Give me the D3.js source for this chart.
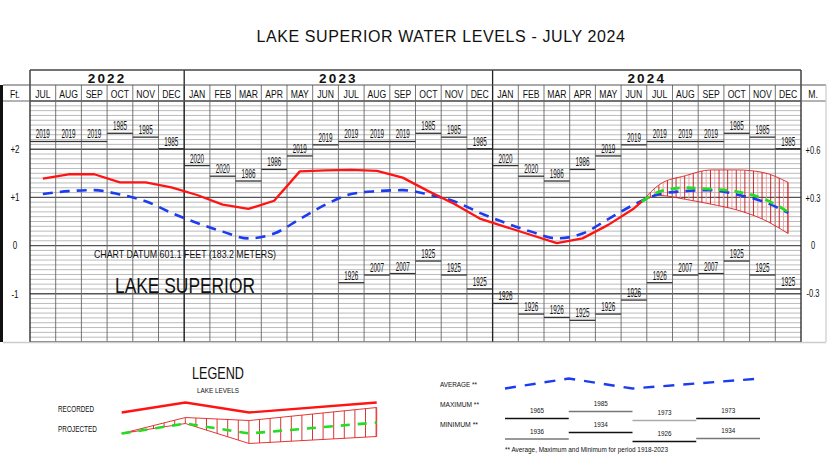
<!DOCTYPE html>
<html>
<head>
<meta charset="utf-8">
<script src="https://cdn.jsdelivr.net/npm/d3@7"></script>
<style>
body { margin: 0; background: #fff; }
svg text { font-family: "Liberation Sans", Arial, sans-serif; fill: #111; }
</style>
</head>
<body>
<div id="chart"></div>
<script>
// ---- data ----
var monthNames = ["JAN","FEB","MAR","APR","MAY","JUN","JUL","AUG","SEP","OCT","NOV","DEC"];
var firstMonth = 6; // chart starts in July 2022
var monthCount = 30;
var yearLabels = ["2022","2023","2024"];
var yearMonthCounts = [6, 12, 12];

// monthly mean levels, feet above chart datum, Jul 2022 - Jun 2024
var recordedLevels = [1.39,1.48,1.48,1.31,1.31,1.21,
	1.05,0.85,0.76,0.93,1.54,1.56,1.57,1.55,1.41,1.13,0.87,0.56,
	0.39,0.22,0.05,0.15,0.43,0.77];
var latestPosition = 23.8;
var latestLevel = 0.91;

// projection Jul - Dec 2024
var projectedLevels = [1.12,1.20,1.17,1.12,0.98,0.70];
var projectedHigh = [1.27,1.45,1.57,1.57,1.52,1.31];
var projectedLow = [1.04,0.96,0.86,0.74,0.55,0.25];

// period of record, by calendar month Jan..Dec
var averageByMonth = [0.47,0.29,0.15,0.25,0.55,0.85,1.07,1.13,1.15,1.06,0.92,0.68];
var maxYearByMonth = ["2020","2020","1986","1986","2019","2019","2019","2019","2019","1985","1985","1985"];
var maxLevelByMonth = [1.66,1.44,1.34,1.58,1.86,2.09,2.16,2.16,2.16,2.33,2.25,2.01];
var minYearByMonth = ["1926","1926","1926","1925","1926","1926","1926","2007","2007","1925","1925","1925"];
var minLevelByMonth = [-1.20,-1.42,-1.49,-1.55,-1.42,-1.13,-0.77,-0.61,-0.58,-0.32,-0.61,-0.90];
var minShownFrom = 12;

var feetTicks = [2, 1, 0, -1];
var metreTicks = [0.6, 0.3, 0, -0.3];

// legend samples
var legendSteps = [0, 1, 2, 4];
var legendRecorded = [0.65,0.85,0.65,0.85];
var legendProjected = [0.23,0.43,0.23,0.45];
var legendHigh = [0.23,0.55,0.49,0.75];
var legendLow = [0.23,0.43,0.03,0.17];
var legendAverage = [1.13,1.33,1.13,1.33];
var legendMaxYears = ["1965","1985","1973","1973"];
var legendMaxLevels = [0.53,0.67,0.49,0.53];
var legendMinYears = ["1936","1934","1926","1934"];
var legendMinLevels = [0.12,0.25,0.07,0.13];

var RED = "#ff1414", BLUE = "#1c3cf0", GREEN = "#22dd22";

// squeeze text horizontally, like a narrow face
function narrow(sel, k) {
	sel.each(function(){
		var w = this.getComputedTextLength();
		d3.select(this).attr("textLength", w * (k || 0.82)).attr("lengthAdjust", "spacingAndGlyphs");
	});
}

/*
 *  Water level chart
 */
function LevelChart(parentElement){
	var vis = this;
	vis.parentElement = parentElement;
	vis.init();
}

LevelChart.prototype.init = function() {
	var vis = this;
	vis.width = 839;
	vis.height = 475;
	vis.svg = d3.select(vis.parentElement).append("svg")
		.attr("width", vis.width)
		.attr("height", vis.height);

	vis.x = d3.scaleLinear().domain([0, monthCount]).range([30, 801]);
	vis.y = d3.scaleLinear().domain([-2, 3]).range([342, 101]);

	vis.drawFrame();
	vis.drawMarks();
	vis.drawLegend();
};

LevelChart.prototype.drawFrame = function() {
	var vis = this, x = vis.x, y = vis.y;
	var svg = vis.svg;

	svg.append("text").attr("x", 441).attr("y", 42)
		.attr("text-anchor", "middle")
		.style("font-size", "16px").style("letter-spacing", "0.6px")
		.text("LAKE SUPERIOR WATER LEVELS - JULY 2024");

	// horizontal grid every 0.1 ft
	var grid = d3.range(-20, 31).map(function(d){ return d / 10; });
	svg.append("g").selectAll("line").data(grid).enter().append("line")
		.attr("x1", x(0)).attr("x2", x(monthCount))
		.attr("y1", function(d){ return y(d); }).attr("y2", function(d){ return y(d); })
		.attr("stroke", function(d){ return Math.abs(d - Math.round(d)) < 1e-6 ? "#555" : "#aaa"; })
		.attr("stroke-width", function(d){ return Math.abs(d - Math.round(d)) < 1e-6 ? 1.4 : 0.8; });

	// month columns
	svg.append("g").selectAll("line").data(d3.range(1, monthCount)).enter().append("line")
		.attr("x1", function(d){ return x(d); }).attr("x2", function(d){ return x(d); })
		.attr("y1", 85).attr("y2", y(-2))
		.attr("stroke", "#666").attr("stroke-width", 0.9);

	// year boundaries
	var bounds = [0], acc = 0;
	yearMonthCounts.forEach(function(c){ acc += c; bounds.push(acc); });
	svg.append("g").selectAll("line").data(bounds).enter().append("line")
		.attr("x1", function(d){ return x(d); }).attr("x2", function(d){ return x(d); })
		.attr("y1", 70).attr("y2", y(-2))
		.attr("stroke", "#222").attr("stroke-width", 1.3);

	svg.append("line").attr("x1", x(0)).attr("x2", x(monthCount)).attr("y1", 70).attr("y2", 70)
		.attr("stroke", "#444").attr("stroke-width", 1.6);
	svg.append("line").attr("x1", 3).attr("x2", 826).attr("y1", 85).attr("y2", 85)
		.attr("stroke", "#555").attr("stroke-width", 1);
	svg.append("line").attr("x1", 3).attr("x2", 826).attr("y1", y(3)).attr("y2", y(3))
		.attr("stroke", "#666").attr("stroke-width", 1);
	svg.append("line").attr("x1", 3).attr("x2", 826).attr("y1", y(-2) + 0.5).attr("y2", y(-2) + 0.5)
		.attr("stroke", "#ccc").attr("stroke-width", 1.5);
	svg.append("line").attr("x1", 826).attr("x2", 826).attr("y1", 85).attr("y2", y(-2))
		.attr("stroke", "#ccc").attr("stroke-width", 1.2);
	svg.append("rect").attr("x", 0).attr("y", 85).attr("width", 3).attr("height", y(-2) - 85)
		.attr("fill", "#111");

	// year labels
	svg.append("g").selectAll("text").data(yearLabels).enter().append("text")
		.attr("x", function(d, i){ return x((bounds[i] + bounds[i + 1]) / 2); })
		.attr("y", 82.5)
		.attr("text-anchor", "middle")
		.style("font-weight", "bold").style("font-size", "13.5px").style("letter-spacing", "2.2px")
		.text(function(d){ return d; });

	// month labels
	svg.append("g").selectAll("text").data(d3.range(monthCount)).enter().append("text")
		.attr("x", function(d){ return x(d + 0.5); })
		.attr("y", 97.5)
		.attr("text-anchor", "middle")
		.style("font-size", "10.5px")
		.text(function(d){ return monthNames[(firstMonth + d) % 12]; })
		.call(narrow);

	svg.append("text").attr("x", 15).attr("y", 97.5).attr("text-anchor", "middle")
		.style("font-size", "10.5px").text("Ft.").call(narrow);
	svg.append("text").attr("x", 813).attr("y", 97.5).attr("text-anchor", "middle")
		.style("font-size", "10.5px").text("M.").call(narrow);

	// feet and metre scales
	var sign = function(d){ return d > 0 ? "+" + d : String(d); };
	var left = svg.append("g").attr("transform", "translate(22,0)")
		.call(d3.axisLeft(y).tickValues(feetTicks).tickSize(0).tickPadding(0).tickFormat(sign));
	var metreY = d3.scaleLinear().domain(y.domain().map(function(d){ return d * 0.3048; })).range(y.range());
	var right = svg.append("g").attr("transform", "translate(813,0)")
		.call(d3.axisLeft(metreY).tickValues(metreTicks).tickSize(0).tickPadding(0).tickFormat(sign));
	[left, right].forEach(function(g){
		g.select(".domain").remove();
		g.selectAll("text").attr("fill", "#111")
			.style("font-family", "'Liberation Sans', Arial, sans-serif")
			.style("font-size", "10px");
	});
	left.selectAll("text").attr("text-anchor", "middle").attr("x", -7).call(narrow, 0.8);
	right.selectAll("text").attr("text-anchor", "middle").attr("x", 0).call(narrow, 0.75);

	svg.append("text").attr("x", 185).attr("y", 258).attr("text-anchor", "middle")
		.style("font-size", "11px").attr("textLength", 182).attr("lengthAdjust", "spacingAndGlyphs")
		.text("CHART DATUM  601.1 FEET (183.2 METERS)");
	svg.append("text").attr("x", 185).attr("y", 293).attr("text-anchor", "middle")
		.style("font-size", "22px").attr("textLength", 140).attr("lengthAdjust", "spacingAndGlyphs")
		.text("LAKE SUPERIOR");
};

LevelChart.prototype.drawMarks = function() {
	var vis = this, x = vis.x, y = vis.y;
	var svg = vis.svg;

	// max / min of record for each month
	var extremes = [];
	d3.range(monthCount).forEach(function(i){
		var m = (firstMonth + i) % 12;
		extremes.push({ i: i, year: maxYearByMonth[m], level: maxLevelByMonth[m] });
		if (i >= minShownFrom) extremes.push({ i: i, year: minYearByMonth[m], level: minLevelByMonth[m] });
	});
	var ex = svg.append("g").selectAll("g").data(extremes).enter().append("g");
	ex.append("line")
		.attr("x1", function(d){ return x(d.i); }).attr("x2", function(d){ return x(d.i + 1); })
		.attr("y1", function(d){ return y(d.level); }).attr("y2", function(d){ return y(d.level); })
		.attr("stroke", "#333").attr("stroke-width", 1.3);
	ex.append("text")
		.attr("x", function(d){ return x(d.i + 0.5); })
		.attr("y", function(d){ return y(d.level) - 3; })
		.attr("text-anchor", "middle")
		.style("font-size", "12px")
		.attr("textLength", 14).attr("lengthAdjust", "spacingAndGlyphs")
		.text(function(d){ return d.year; });

	// projection band
	var projPos = projectedLevels.map(function(d, i){ return recordedLevels.length + i + 0.5; });
	var band = [{ p: latestPosition, hi: latestLevel, lo: latestLevel }].concat(projPos.map(function(p, i){
		return { p: p, hi: projectedHigh[i], lo: projectedLow[i] };
	}));
	var area = d3.area().curve(d3.curveMonotoneX)
		.x(function(d){ return x(d.p); })
		.y0(function(d){ return y(d.lo); })
		.y1(function(d){ return y(d.hi); });
	svg.append("clipPath").attr("id", "band-clip").append("path").attr("d", area(band));
	var x0 = x(latestPosition), x1 = x(projPos[projPos.length - 1]);
	svg.append("g").attr("clip-path", "url(#band-clip)")
		.selectAll("line").data(d3.range(x0, x1 + 0.1, 4.3)).enter().append("line")
		.attr("x1", function(d){ return d; }).attr("x2", function(d){ return d; })
		.attr("y1", y(3)).attr("y2", y(-2))
		.attr("stroke", function(d, i){ return i % 2 ? "#f59a9a" : "#cc1010"; })
		.attr("stroke-width", 0.9);
	svg.append("path").attr("d", area(band))
		.attr("fill", "none").attr("stroke", "#e02020").attr("stroke-width", 0.9);

	// average
	var avg = d3.range(monthCount).map(function(i){
		return { p: i + 0.5, v: averageByMonth[(firstMonth + i) % 12] };
	});
	var line = d3.line().x(function(d){ return x(d.p); }).y(function(d){ return y(d.v); });
	svg.append("path").attr("d", line.curve(d3.curveMonotoneX)(avg))
		.attr("fill", "none").attr("stroke", BLUE).attr("stroke-width", 2.6)
		.attr("stroke-dasharray", "10,7");

	// projected
	var proj = [{ p: latestPosition, v: latestLevel }].concat(projPos.map(function(p, i){
		return { p: p, v: projectedLevels[i] };
	}));
	svg.append("path").attr("d", line.curve(d3.curveMonotoneX)(proj))
		.attr("fill", "none").attr("stroke", GREEN).attr("stroke-width", 2.8)
		.attr("stroke-dasharray", "9,7");

	// recorded
	var rec = recordedLevels.map(function(v, i){ return { p: i + 0.5, v: v }; })
		.concat([{ p: latestPosition, v: latestLevel }]);
	svg.append("path").attr("d", line.curve(d3.curveLinear)(rec))
		.attr("fill", "none").attr("stroke", RED).attr("stroke-width", 2.3)
		.attr("stroke-linejoin", "round");
};

LevelChart.prototype.drawLegend = function() {
	var vis = this;
	var svg = vis.svg;
	var lx = d3.scaleLinear().domain([0, 4]).range([121.7, 376.7]);
	var rx = d3.scaleLinear().domain([0, 4]).range([505, 760]);
	var ly = d3.scaleLinear().domain([0, 1]).range([445, 395]);

	var label = function(x, y, size, txt, len, anchor){
		var t = svg.append("text").attr("x", x).attr("y", y)
			.attr("text-anchor", anchor || "start")
			.style("font-size", size + "px").text(txt);
		if (len) t.attr("textLength", len).attr("lengthAdjust", "spacingAndGlyphs");
		return t;
	};
	label(218, 378.5, 16, "LEGEND", 52, "middle");
	label(218, 392.5, 8, "LAKE LEVELS", 42, "middle");
	label(58, 411.5, 9, "RECORDED", 36);
	label(58, 431.5, 9, "PROJECTED", 39);
	label(440, 386.5, 8, "AVERAGE **", 37);
	label(440, 406.5, 8, "MAXIMUM **", 39);
	label(440, 427, 8, "MINIMUM **", 38);
	label(505, 451.5, 8, "** Average, Maximum and Minimum for period 1918-2023", 163);

	var pts = function(vals){ return vals.map(function(v, i){ return { s: legendSteps[i], v: v }; }); };
	var line = d3.line().x(function(d){ return lx(d.s); }).y(function(d){ return ly(d.v); });

	var band = legendSteps.map(function(s, i){ return { s: s, hi: legendHigh[i], lo: legendLow[i] }; });
	var area = d3.area().x(function(d){ return lx(d.s); })
		.y0(function(d){ return ly(d.lo); }).y1(function(d){ return ly(d.hi); });
	svg.append("clipPath").attr("id", "legend-clip").append("path").attr("d", area(band));
	svg.append("g").attr("clip-path", "url(#legend-clip)")
		.selectAll("line").data(d3.range(lx(0) + 10.6, lx(4) + 0.1, 10.6)).enter().append("line")
		.attr("x1", function(d){ return d; }).attr("x2", function(d){ return d; })
		.attr("y1", 395).attr("y2", 450)
		.attr("stroke", "#d42020").attr("stroke-width", 0.9);
	svg.append("path").attr("d", area(band))
		.attr("fill", "none").attr("stroke", "#e02020").attr("stroke-width", 0.9);
	svg.append("path").attr("d", line(pts(legendProjected)))
		.attr("fill", "none").attr("stroke", GREEN).attr("stroke-width", 2.6)
		.attr("stroke-dasharray", "9,8");
	svg.append("path").attr("d", line(pts(legendRecorded)))
		.attr("fill", "none").attr("stroke", RED).attr("stroke-width", 2.3);

	var avgLine = d3.line().x(function(d){ return rx(d.s); }).y(function(d){ return ly(d.v); });
	svg.append("path").attr("d", avgLine(pts(legendAverage)))
		.attr("fill", "none").attr("stroke", BLUE).attr("stroke-width", 2.4)
		.attr("stroke-dasharray", "11,9");

	var segs = [];
	legendMaxYears.forEach(function(yr, i){ segs.push({ i: i, year: yr, v: legendMaxLevels[i], c: ["#111","#777","#aaa","#111"][i] }); });
	legendMinYears.forEach(function(yr, i){ segs.push({ i: i, year: yr, v: legendMinLevels[i], c: ["#777","#111","#111","#777"][i] }); });
	var g = svg.append("g").selectAll("g").data(segs).enter().append("g");
	g.append("line")
		.attr("x1", function(d){ return rx(d.i); }).attr("x2", function(d){ return rx(d.i + 1); })
		.attr("y1", function(d){ return ly(d.v); }).attr("y2", function(d){ return ly(d.v); })
		.attr("stroke", function(d){ return d.c; }).attr("stroke-width", 1.3);
	g.append("text")
		.attr("x", function(d){ return rx(d.i + 0.5); })
		.attr("y", function(d){ return ly(d.v) - 5.5; })
		.attr("text-anchor", "middle")
		.style("font-size", "8px")
		.attr("textLength", 14).attr("lengthAdjust", "spacingAndGlyphs")
		.text(function(d){ return d.year; });
};

new LevelChart("#chart");
</script>
</body>
</html>
